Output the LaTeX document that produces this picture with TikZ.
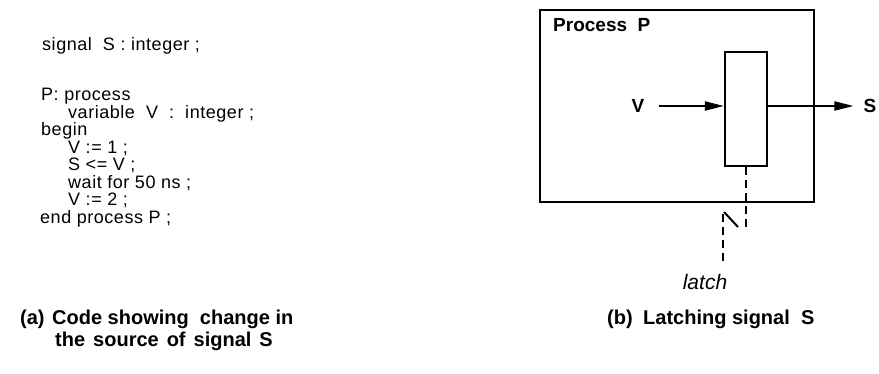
\documentclass[tikz,border=0pt]{standalone}
\usepackage{fontspec}
\setmainfont{Liberation Sans}
\usetikzlibrary{arrows.meta}
\tikzset{
  codeline/.style={anchor=base west, inner sep=0pt,
    font=\fontsize{18}{20}\selectfont\addfontfeatures{LetterSpace=3}},
  caption/.style={anchor=base west, inner sep=0pt,
    font=\fontsize{20}{22}\selectfont\bfseries},
  sig/.style={inner sep=0pt, font=\fontsize{19}{21}\selectfont\bfseries},
  frame/.style={draw, line width=2.2pt},
  wire/.style={line width=2pt, -{Triangle[length=19pt,width=9pt]}},
  dashwire/.style={line width=2pt, dash pattern=on 8pt off 5pt}
}
\begin{document}
\begin{tikzpicture}[x=1pt,y=-1pt]
\useasboundingbox (0,0) rectangle (879,374);

% VHDL code fragment
\node[codeline] (c1) at (42,51)  {signal\ \ S : integer ;};
\node[codeline] (c2) at (41,101) {P: process};
\node[codeline] (c3) at (68,118.5) {variable\ \ V\ \ :\ \ integer ;};
\node[codeline] (c4) at (41,136) {begin};
\node[codeline] (c5) at (68,153.5) {V := 1 ;};
\node[codeline] (c6) at (68,171) {S <= V ;};
\node[codeline] (c7) at (68,188.5) {wait for 50 ns ;};
\node[codeline] (c8) at (68,206) {V := 2 ;};
\node[codeline] (c9) at (40,223.5) {end process P ;};

% caption (a)
\node[caption] (capa)  at (20,325) {(a)};
\node[caption] (capa1) at (52,325) {Code showing\ \ change in};
\node[caption] (capa2) at (55,347)
  {the\hspace{8pt}source\hspace{8pt}of\hspace{8pt}signal\hspace{8pt}S};

% process with its latch
\node[frame, minimum width=274pt, minimum height=192pt, inner sep=0pt]
  (proc) at (677,106) {};
\node[anchor=north west, inner sep=0pt, font=\fontsize{19}{21}\selectfont\bfseries]
  (ptitle) at (553,18) {Process\ \ P};
\node[frame, minimum width=42pt, minimum height=114pt, inner sep=0pt]
  (latchbox) at (746,109) {};
\node[sig] (vlab) at (638,106) {V};
\node[sig] (slab) at (870,106) {S};
\draw[wire] (vlab.east) ++(14,0) coordinate (vstart) -- (vstart -| latchbox.west);
\draw[wire] (latchbox.east |- slab) -- ([xshift=-10pt]slab.west);

% latch control line, broken below the frame
\coordinate (d1) at (746,230);
\coordinate (k1) at (724,212);
\coordinate (k2) at (738,227);
\coordinate (d2) at (723,214);
\coordinate (d3) at (723,263);
\draw[dashwire] (latchbox.south) -- (d1);
\draw[line width=2pt] (k1) -- (k2);
\draw[dashwire] (d2) -- (d3);
\node[anchor=base, inner sep=0pt, font=\fontsize{21}{23}\selectfont\itshape]
  (latchlab) at (705,290) {latch};

% caption (b)
\node[caption] (capb)  at (607,325) {(b)};
\node[caption] (capb1) at (643,325) {Latching signal\ \ S};
\end{tikzpicture}
\end{document}
